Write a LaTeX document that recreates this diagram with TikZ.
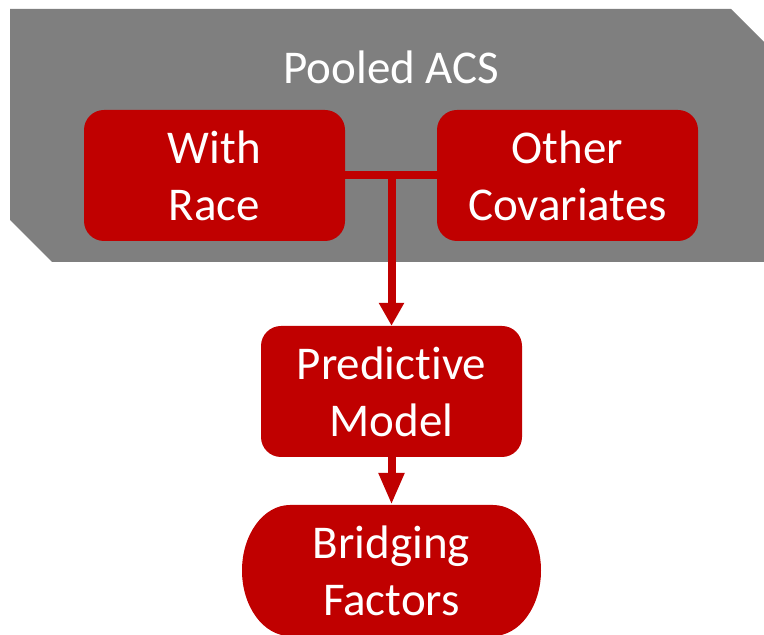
\documentclass[tikz,border=0pt]{standalone}
\usepackage{fontspec}
\setmainfont[RawFeature={-liga;-dlig;-clig}]{Carlito}
\usetikzlibrary{arrows.meta}
\definecolor{pptred}{HTML}{C00000}
\definecolor{pptgray}{HTML}{7F7F7F}
\tikzset{
  redbox/.style={fill=pptred, rounded corners=20pt, minimum width=261pt, minimum height=131pt, inner sep=0pt},
  lbl/.style={text=white, font=\fontsize{47}{57}\selectfont, align=center},
  conn/.style={draw=pptred, line width=8pt},
}
\begin{document}
\begin{tikzpicture}[x=1pt,y=1pt]
\useasboundingbox (0,0) rectangle (764,635);
% gray panel
\fill[pptgray] (10,626) -- (731,626) -- (764,593) -- (764,373) -- (52,373) -- (10,415) -- cycle;
\node[lbl, anchor=base] (pooled) at (391.5,551) {Pooled ACS};
% boxes
\node[redbox, lbl] (wr) at (214.5,459.5) {With\\Race};
\node[redbox, lbl] (oc) at (567.5,459.5) {Other\\Covariates};
\node[redbox, lbl] (pm) at (391.5,243.5) {Predictive\\Model};
% terminator
\fill[pptred] (290,130) -- (493,130) arc[start angle=90, end angle=-90, x radius=48, y radius=65.5]
  -- (290,-1) arc[start angle=270, end angle=90, x radius=48, y radius=65.5] -- cycle;
\node[lbl, minimum width=299pt, minimum height=131pt, inner sep=0pt] (bf) at (391.5,64.5) {Bridging\\Factors};
% connectors
\coordinate (j) at (391.5,459.5);
\draw[conn] (wr.east) -- (oc.west);
\draw[conn, -{Triangle[width=24pt,length=23pt]}] (j) -- (pm.north);
\draw[conn, -{Triangle[width=24pt,length=32pt]}] (pm.south) -- (bf.north);
\end{tikzpicture}
\end{document}
